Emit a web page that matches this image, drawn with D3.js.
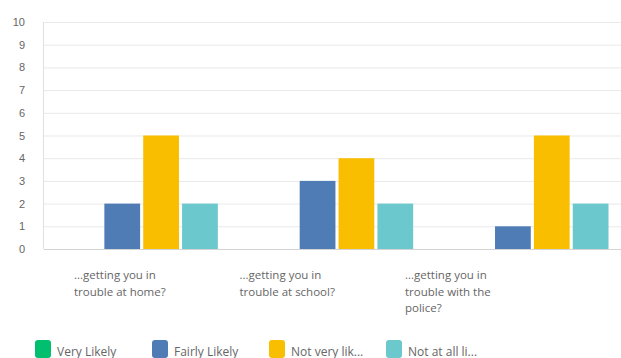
<!DOCTYPE html>
<html>
<head>
<meta charset="utf-8">
<script src="https://cdn.jsdelivr.net/npm/d3@7"></script>
<style>
  html, body { margin: 0; padding: 0; background: #fff; }
  svg { display: block; font-family: "Open Sans", "DejaVu Sans", sans-serif; }
</style>
</head>
<body>
<svg id="chart" width="621" height="358"></svg>
<script>
// Survey answers: how likely is each consequence
const categories = [
  ["...getting you in", "trouble at home?"],
  ["...getting you in", "trouble at school?"],
  ["...getting you in", "trouble with the", "police?"]
];
const seriesNames = ["Very Likely", "Fairly Likely", "Not very lik...", "Not at all li..."];
const seriesColors = ["#00bf6f", "#507cb6", "#f9be00", "#6bc8cd"];
const veryLikely   = [0, 0, 0];
const fairlyLikely = [2, 3, 1];
const notVeryLikely = [5, 4, 5];
const notAtAllLikely = [2, 2, 2];
const yTicks = [0, 1, 2, 3, 4, 5, 6, 7, 8, 9, 10];

const series = [veryLikely, fairlyLikely, notVeryLikely, notAtAllLikely];
const catIds = categories.map((c, i) => i);

const svg = d3.select("#chart");
const plot = { left: 44, right: 630, top: 22, bottom: 249 };

const y = d3.scaleLinear().domain([0, 10]).range([plot.bottom, plot.top]);
const x0 = d3.scaleBand().domain(catIds).range([plot.left, plot.right])
  .paddingInner(0.22).paddingOuter(0.11);
const x1 = d3.scaleBand().domain(d3.range(series.length)).range([0, x0.bandwidth()])
  .paddingInner(0.08).paddingOuter(0);

// horizontal gridlines
svg.append("g").selectAll("line").data(yTicks.filter(t => t > 0)).join("line")
  .attr("x1", plot.left).attr("x2", 621)
  .attr("y1", d => y(d) + 0.5).attr("y2", d => y(d) + 0.5)
  .attr("stroke", "#e9e9e9").attr("stroke-width", 1);

// left edge of plot area
svg.append("line")
  .attr("x1", plot.left - 0.5).attr("x2", plot.left - 0.5)
  .attr("y1", y(10)).attr("y2", y(0))
  .attr("stroke", "#e0e0e0");

// y axis labels
const yAxis = d3.axisLeft(y).tickValues(yTicks).tickSize(0).tickPadding(0);
const gy = svg.append("g").attr("transform", "translate(25,0)").call(yAxis);
gy.select(".domain").remove();
gy.selectAll("text").attr("fill", "#666").attr("font-size", 11);

// bars
const groups = svg.append("g").selectAll("g").data(catIds).join("g")
  .attr("transform", i => `translate(${x0(i)},0)`);
groups.selectAll("rect")
  .data(i => series.map((s, k) => ({ k, v: s[i] })))
  .join("rect")
  .attr("x", d => x1(d.k))
  .attr("width", x1.bandwidth())
  .attr("y", d => y(d.v))
  .attr("height", d => y(0) - y(d.v))
  .attr("fill", d => seriesColors[d.k]);

// baseline
svg.append("line")
  .attr("x1", plot.left).attr("x2", 621)
  .attr("y1", y(0) + 0.5).attr("y2", y(0) + 0.5)
  .attr("stroke", "#d4d4d4");

// category labels
const labelX = d3.scaleBand().domain(catIds).range([74, 74 + 165.5 * 3]);
const lab = svg.append("g").selectAll("text").data(catIds).join("text")
  .attr("x", i => labelX(i))
  .attr("y", 279)
  .attr("fill", "#666")
  .attr("font-size", 11.5);
lab.selectAll("tspan").data(i => categories[i]).join("tspan")
  .attr("x", function () { return d3.select(this.parentNode).attr("x"); })
  .attr("dy", (d, j) => j === 0 ? 0 : 16.5)
  .text(d => d);

// legend
const legX = d3.scaleBand().domain(d3.range(seriesNames.length)).range([35, 35 + 117 * 4]);
const leg = svg.append("g").selectAll("g").data(d3.range(seriesNames.length)).join("g")
  .attr("transform", k => `translate(${legX(k)},340)`);
leg.append("rect").attr("width", 16).attr("height", 18).attr("rx", 3)
  .attr("fill", k => seriesColors[k]);
leg.append("text").attr("x", 22).attr("y", 15.5)
  .attr("fill", "#666").attr("font-size", 12)
  .text(k => seriesNames[k]);
</script>
</body>
</html>
